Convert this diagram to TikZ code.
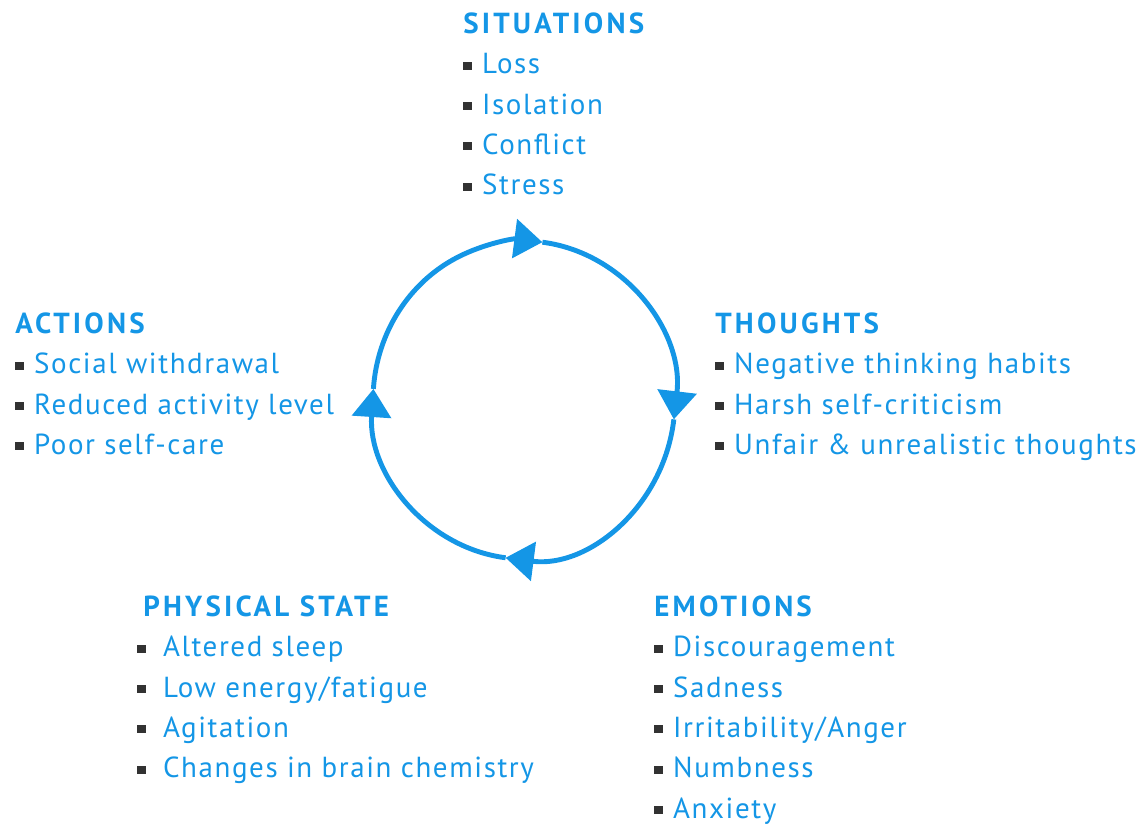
\documentclass[tikz,border=0pt]{standalone}
\usepackage{fontspec}
\setmainfont{PT Sans}[LetterSpace=5.5,BoldFeatures={LetterSpace=11}]
\usetikzlibrary{positioning,arrows.meta}
\definecolor{cycblue}{RGB}{20,150,230}
\definecolor{bulletgray}{RGB}{50,50,50}
% square bullet, optional gap before the item text
\newcommand{\bul}[1][5.7pt]{\textcolor{bulletgray}{\rule[2.3pt]{5pt}{4.6pt}}\hspace{#1}}
\newcommand{\head}[1]{\textbf{#1}}

\begin{document}
\begin{tikzpicture}[x=0.02cm,y=0.02cm,
block/.style={inner sep=0pt,anchor=north west,align=left,text=cycblue,
font=\fontsize{16.5}{23}\selectfont},
cycarrow/.style={line width=2.8pt,draw=cycblue,
-{Triangle[length=16pt,width=22pt]}}]
\useasboundingbox (0,0) rectangle (1144,825);

% the cycle
\coordinate (c) at (524,425);
\coordinate (tipS) at ([shift={(83:3.02cm and 3.18cm)}]c);
\coordinate (tipT) at ([shift={(-7:3.02cm and 3.18cm)}]c);
\coordinate (tipE) at ([shift={(-97:3.02cm and 3.18cm)}]c);
\coordinate (tipA) at ([shift={(176:3.02cm and 3.18cm)}]c);
\draw[cycarrow] (tipA) arc[start angle=176,end angle=83,x radius=3.02cm,y radius=3.18cm];
\draw[cycarrow] (tipS) arc[start angle=83,end angle=-7,x radius=3.02cm,y radius=3.18cm];
\draw[cycarrow] (tipT) arc[start angle=-7,end angle=-97,x radius=3.02cm,y radius=3.18cm];
\draw[cycarrow] (tipE) arc[start angle=-97,end angle=-184,x radius=3.02cm,y radius=3.18cm];

% text blocks round it
\node[block] (situations) at (463,820.4) {\strut\head{SITUATIONS}\\
\bul Loss\\\bul Isolation\\\bul Conflict\\\bul Stress};
\node[block] (actions) at (15,520.4) {\strut\head{ACTIONS}\\
\bul Social withdrawal\\\bul Reduced activity level\\\bul Poor self-care};
\node[block] (thoughts) at (715,520.4) {\strut\head{THOUGHTS}\\
\bul Negative thinking habits\\\bul Harsh self-criticism\\
\bul Unfair \& unrealistic thoughts};
\node[block] (physical) at (137,237.4) {\strut\hspace*{3.4pt}\head{PHYSICAL STATE}\\
\bul[9.6pt]Altered sleep\\\bul[9.6pt]Low energy/fatigue\\
\bul[9.6pt]Agitation\\\bul[9.6pt]Changes in brain chemistry};
\node[block] (emotions) at (654,237.4) {\strut\head{EMOTIONS}\\
\bul Discouragement\\\bul Sadness\\\bul Irritability/Anger\\
\bul Numbness\\\bul Anxiety};
\end{tikzpicture}
\end{document}
